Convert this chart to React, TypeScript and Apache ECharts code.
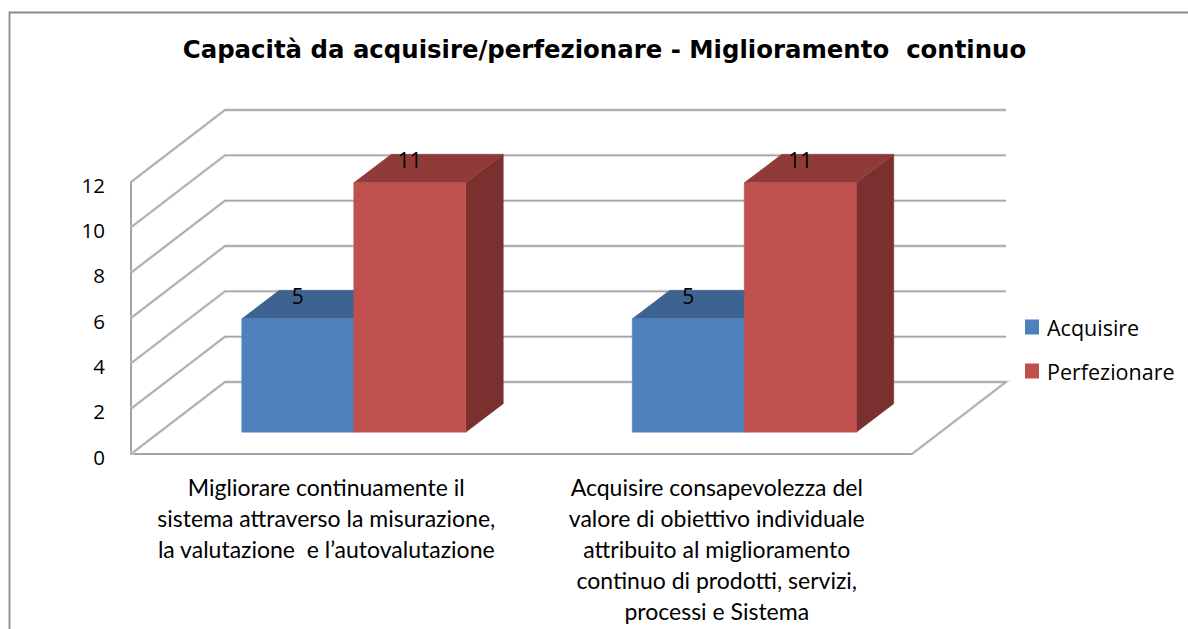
import React, { useEffect, useRef } from "react";
import * as echarts from "echarts";

const TITLE = "Capacità da acquisire/perfezionare - Miglioramento  continuo";
const categories = [
  "Migliorare continuamente il\nsistema attraverso la misurazione,\nla valutazione  e l’autovalutazione",
  "Acquisire consapevolezza del\nvalore di obiettivo individuale\nattribuito al miglioramento\ncontinuo di prodotti, servizi,\nprocessi e Sistema",
];
const acquisire = [5, 5];
const perfezionare = [11, 11];
const yTicks = [0, 2, 4, 6, 8, 10, 12];

const WALL_DX = 94;
const WALL_DY = -72;
const BAR_SHIFT_X = 27.5;
const BAR_SHIFT_Y = -21.8;
const BAR_W = 112;
const BAR_DX = 37.5;
const BAR_DY = -28.5;

const seg = (pts: number[][], stroke: string, lineWidth: number) => ({
  type: "polyline",
  shape: { points: pts },
  style: { stroke, lineWidth, fill: "none" },
});

const gridRender = (params: any, api: any) => {
  const v = api.value(0);
  const cs = params.coordSys;
  const y = api.coord([0, v])[1];
  const x0 = cs.x;
  const x1 = cs.x + cs.width;
  let pts = [[x0, y], [x0 + WALL_DX, y + WALL_DY], [x1 + WALL_DX, y + WALL_DY]];
  if (v === 0) pts = pts.concat([[x1, y]]);
  return {
    type: "group",
    children: [seg(pts, "#dcdcdc", 3), seg(pts, "#a3a3a3", 1.3)],
  };
};

const barRender = (side: number, front: string, top: string, right: string) => (params: any, api: any) => {
  const cat = api.value(0);
  const val = api.value(1);
  const t = api.coord([cat, val]);
  const b = api.coord([cat, 0]);
  const xc = t[0] + BAR_SHIFT_X;
  const x0 = side < 0 ? xc - BAR_W : xc;
  const x1 = x0 + BAR_W;
  const yt = t[1] + BAR_SHIFT_Y;
  const yb = b[1] + BAR_SHIFT_Y;
  const poly = (points: number[][], fill: string) => ({
    type: "polygon",
    shape: { points },
    style: { fill, stroke: fill, lineWidth: 0.5 },
  });
  return {
    type: "group",
    children: [
      poly([[x1, yb], [x1 + BAR_DX, yb + BAR_DY], [x1 + BAR_DX, yt + BAR_DY], [x1, yt]], right),
      poly([[x0, yt], [x0 + BAR_DX, yt + BAR_DY], [x1 + BAR_DX, yt + BAR_DY], [x1, yt]], top),
      poly([[x0, yt], [x1, yt], [x1, yb], [x0, yb]], front),
      {
        type: "text",
        style: {
          text: String(val),
          x: (x0 + x1) / 2,
          y: yt - 22.5,
          align: "center",
          verticalAlign: "middle",
          font: '21px "Open Sans"',
          fill: "#000",
        },
      },
    ],
  };
};

export default function App() {
  const ref = useRef<HTMLDivElement>(null);
  useEffect(() => {
    document.body.style.margin = "0";
    const chart = echarts.init(ref.current!, undefined, { renderer: "svg" });
    chart.setOption({
      animation: false,
      backgroundColor: "#fff",
      title: {
        text: TITLE,
        left: 604.5,
        top: 37,
        padding: 0,
        textAlign: "center",
        textStyle: { fontFamily: "DejaVu Sans", fontWeight: "bold", fontSize: 24.4, color: "#000" },
      },
      legend: {
        orient: "vertical",
        left: 1025,
        top: 316,
        padding: 0,
        icon: "rect",
        itemWidth: 14,
        itemHeight: 15,
        itemGap: 22,
        data: ["Acquisire", "Perfezionare"],
        textStyle: { fontFamily: "Open Sans", fontSize: 21.5, color: "#000", padding: [0, 0, 0, 3] },
      },
      grid: { left: 131, top: 182, width: 781, height: 272 },
      xAxis: {
        type: "category",
        data: categories,
        axisTick: { show: false },
        axisLine: { show: true, lineStyle: { color: "#a3a3a3", width: 2 } },
        axisLabel: {
          interval: 0,
          margin: 17,
          fontFamily: "Lato",
          fontSize: 23,
          lineHeight: 31,
          color: "#000",
          align: "center",
          verticalAlign: "top",
        },
      },
      yAxis: {
        type: "value",
        min: 0,
        max: 12,
        interval: 2,
        splitLine: { show: false },
        axisTick: { show: false },
        axisLine: { show: true, lineStyle: { color: "#a3a3a3", width: 2 } },
        axisLabel: {
          margin: 26,
          fontFamily: "Open Sans",
          fontSize: 20.5,
          color: "#000",
          verticalAlign: "top",
          lineHeight: 5,
        },
      },
      graphic: [
        {
          type: "rect",
          silent: true,
          shape: { x: 9.5, y: 12.5, width: 1300, height: 800 },
          style: { fill: "none", stroke: "#8a8a8a", lineWidth: 1.8 },
        },
      ],
      series: [
        {
          type: "custom",
          name: "griglia",
          z: 1,
          silent: true,
          encode: { y: 0 },
          data: yTicks.map((v) => [v]),
          renderItem: gridRender,
        },
        {
          type: "custom",
          name: "Acquisire",
          z: 2,
          itemStyle: { color: "#4F81BD" },
          encode: { x: 0, y: 1 },
          data: acquisire.map((v, i) => [i, v]),
          renderItem: barRender(-1, "#4F81BD", "#3D6391", "#345578"),
        },
        {
          type: "custom",
          name: "Perfezionare",
          z: 3,
          itemStyle: { color: "#C0504D" },
          encode: { x: 0, y: 1 },
          data: perfezionare.map((v, i) => [i, v]),
          renderItem: barRender(1, "#C0504D", "#8F3B39", "#7A302E"),
        },
      ],
    });
    return () => chart.dispose();
  }, []);
  return <div ref={ref} style={{ position: "absolute", left: 0, top: 0, width: 1188, height: 629 }} />;
}
